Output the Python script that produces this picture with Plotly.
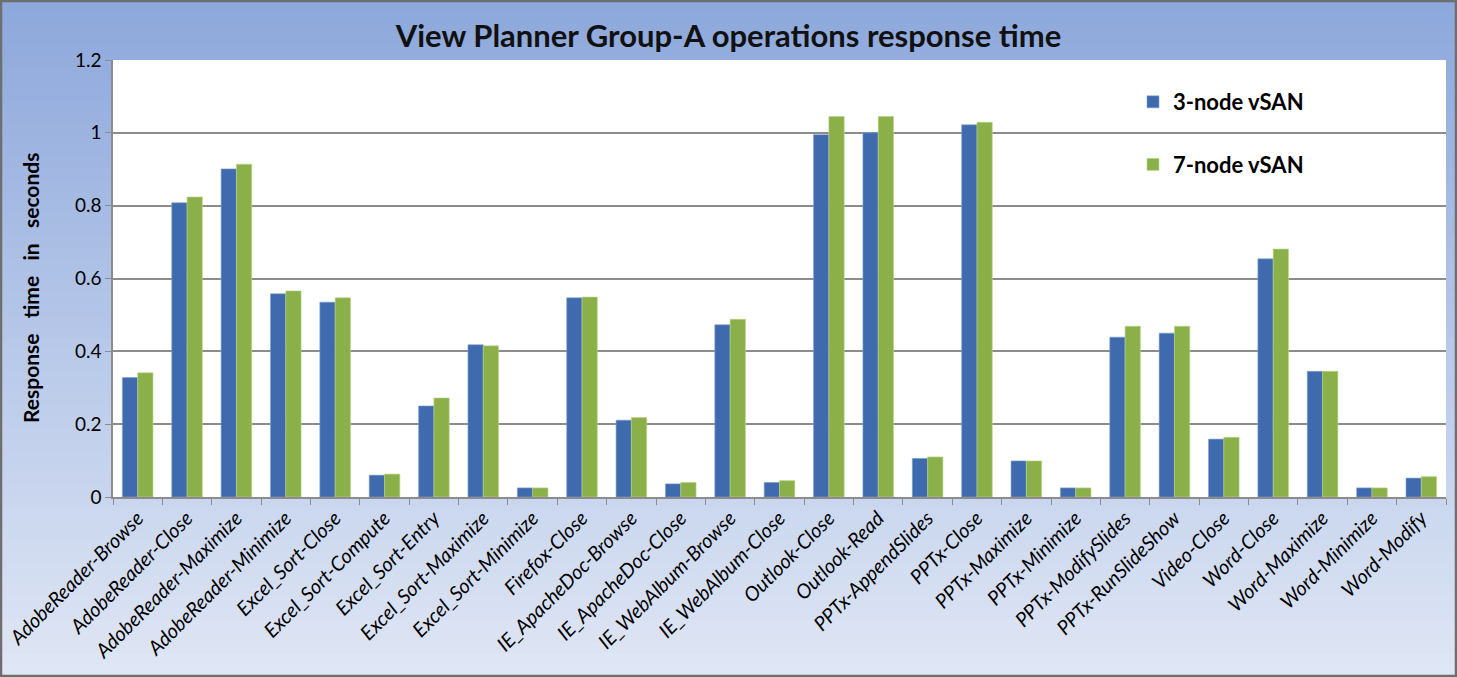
import plotly.graph_objects as go

categories = [
    "AdobeReader-Browse", "AdobeReader-Close", "AdobeReader-Maximize", "AdobeReader-Minimize",
    "Excel_Sort-Close", "Excel_Sort-Compute", "Excel_Sort-Entry", "Excel_Sort-Maximize",
    "Excel_Sort-Minimize", "Firefox-Close", "IE_ApacheDoc-Browse", "IE_ApacheDoc-Close",
    "IE_WebAlbum-Browse", "IE_WebAlbum-Close", "Outlook-Close", "Outlook-Read",
    "PPTx-AppendSlides", "PPTx-Close", "PPTx-Maximize", "PPTx-Minimize",
    "PPTx-ModifySlides", "PPTx-RunSlideShow", "Video-Close", "Word-Close",
    "Word-Maximize", "Word-Minimize", "Word-Modify",
]
node3 = [0.328, 0.808, 0.901, 0.558, 0.535, 0.060, 0.250, 0.418, 0.025, 0.547,
         0.211, 0.036, 0.473, 0.040, 0.995, 1.000, 0.106, 1.022, 0.099, 0.025,
         0.439, 0.450, 0.159, 0.654, 0.345, 0.025, 0.052]
node7 = [0.341, 0.824, 0.914, 0.566, 0.547, 0.063, 0.272, 0.415, 0.025, 0.549,
         0.218, 0.040, 0.488, 0.045, 1.045, 1.045, 0.110, 1.029, 0.099, 0.025,
         0.469, 0.469, 0.164, 0.681, 0.345, 0.025, 0.056]
series_names = ["3-node vSAN", "7-node vSAN"]
y_ticks = [0, 0.2, 0.4, 0.6, 0.8, 1, 1.2]
y_ticklabels = ["0", "0.2", "0.4", "0.6", "0.8", "1", "1.2"]

W, H = 1457, 677
ML, MR, MT, MB = 113, 11, 60, 180
PW, PH = W - ML - MR, H - MT - MB

def px_x(px):
    return (px - ML) / PW

def px_y(py):
    return (H - MB - py) / PH

FONT = "Lato"

fig = go.Figure()
fig.add_trace(go.Bar(x=categories, y=node3, name="<b>%s</b>" % series_names[0], legendgroup="a",
                     marker=dict(color="#3F6BAE", line=dict(color="#7F9FD0", width=0.6))))
fig.add_trace(go.Bar(x=categories, y=node7, name="<b>%s</b>" % series_names[1], legendgroup="b",
                     marker=dict(color="#8BB04A", line=dict(color="#B9D68A", width=0.6))))

# gradient background
shapes = []
N = 60
top_c = (140, 167, 219)
bot_c = (224, 231, 245)
for i in range(N):
    t0 = i / N
    t1 = (i + 1) / N
    tm = (t0 + t1) / 2
    c = tuple(int(round(top_c[k] + (bot_c[k] - top_c[k]) * tm)) for k in range(3))
    shapes.append(dict(type="rect", xref="paper", yref="paper", layer="below",
                       x0=px_x(0), x1=px_x(W), y0=px_y(H * t1), y1=px_y(H * t0) + 0.002,
                       fillcolor="rgb(%d,%d,%d)" % c, line=dict(width=0)))
# plot area white
shapes.append(dict(type="rect", xref="paper", yref="paper", layer="below",
                   x0=0, x1=1, y0=0, y1=1, fillcolor="white", line=dict(width=0)))
# outer frame
shapes.append(dict(type="rect", xref="paper", yref="paper", layer="above",
                   x0=px_x(1), x1=px_x(W - 1), y0=px_y(H - 1), y1=px_y(1),
                   fillcolor="rgba(0,0,0,0)", line=dict(color="#6E6E6E", width=2.5)))

fig.update_layout(
    width=W, height=H,
    margin=dict(l=ML, r=MR, t=MT, b=MB, autoexpand=False),
    paper_bgcolor="#C8D5EE",
    plot_bgcolor="white",
    barmode="group",
    bargap=0.38,
    bargroupgap=0.0,
    font=dict(family=FONT, color="#000000"),
    title=dict(text="<b>View Planner Group-A operations response time</b>",
               x=0.5, xanchor="center", y=1 - 36 / H, yanchor="middle",
               font=dict(size=31, family=FONT, color="#111111")),
    legend=dict(x=px_x(1133), y=px_y(81), xanchor="left", yanchor="top",
                bgcolor="rgba(0,0,0,0)", font=dict(size=22, family=FONT, color="#000000"),
                tracegroupgap=31, itemwidth=30, traceorder="grouped"),
    shapes=shapes,
    annotations=[dict(text="<b>Response\u00a0\u00a0\u00a0time\u00a0\u00a0\u00a0in\u00a0\u00a0\u00a0seconds</b>",
                      xref="paper", yref="paper", x=px_x(30), y=px_y(288),
                      xanchor="center", yanchor="middle", textangle=-90, showarrow=False,
                      font=dict(size=21, family=FONT, color="#000000"))],
    showlegend=True,
)
fig.update_xaxes(
    automargin=False,
    tickangle=-45, tickfont=dict(size=20, family=FONT, color="#000000"),
    showline=True, linecolor="#8C8C8C", linewidth=1.5,
    ticks="outside", tickson="boundaries", ticklen=6, tickcolor="#8C8C8C",
    showgrid=False,
    tickvals=categories, ticktext=["<i>%s</i>" % c for c in categories],
)
fig.update_yaxes(
    automargin=False,
    range=[0, 1.2], tickvals=y_ticks, ticktext=y_ticklabels,
    tickfont=dict(size=19, family=FONT, color="#000000"),
    showline=True, linecolor="#8C8C8C", linewidth=1.5,
    ticks="outside", ticklen=6, tickcolor="#8C8C8C",
    showgrid=True, gridcolor="#8C8C8C", gridwidth=1.5, zeroline=False,
)

fig.write_html("out.html", config={"displayModeBar": False},
               post_script="document.body.style.margin='0px';document.body.style.overflow='hidden';")
